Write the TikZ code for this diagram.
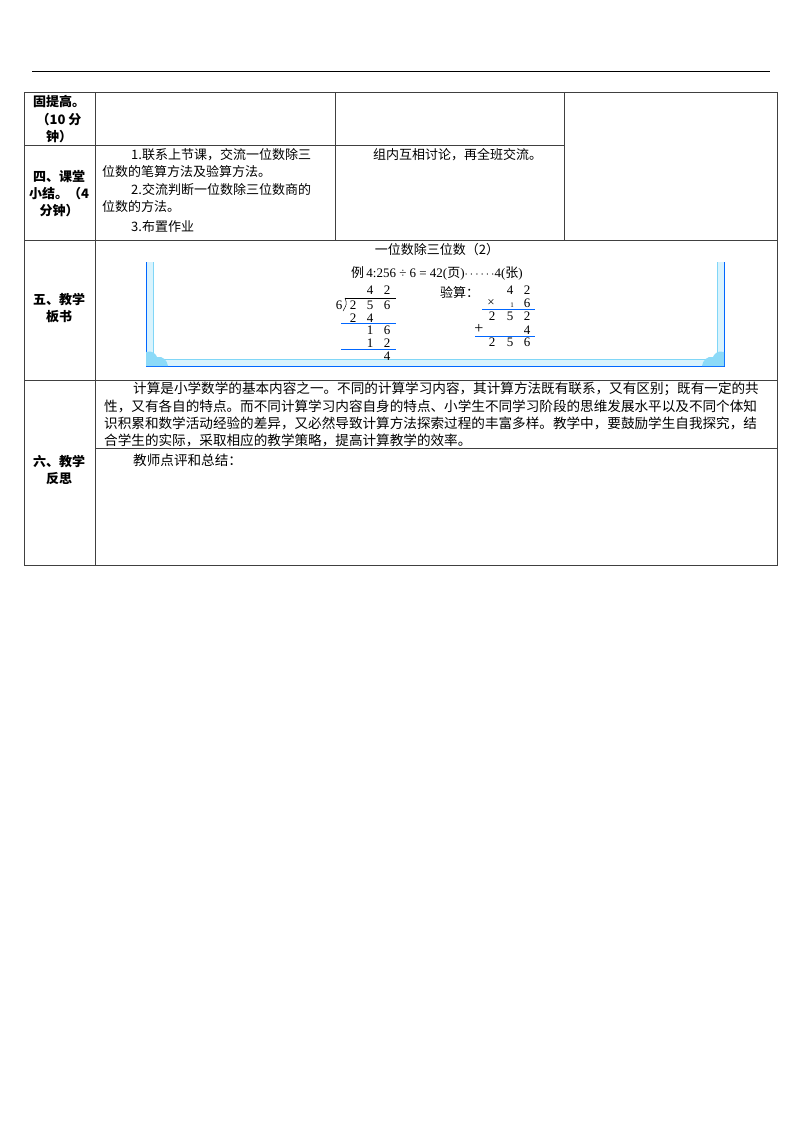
\documentclass[tikz,border=0pt]{standalone}
\usepackage{fontspec}
\setmainfont{Liberation Serif}
\newfontfamily\cjk{Noto Sans CJK SC}
\begin{document}
\begin{tikzpicture}[x=1pt,y=-1pt,
  t/.style={font=\cjk\fontsize{13}{13}\selectfont,inner sep=0pt,anchor=west},
  lab/.style={font=\cjk\bfseries\fontsize{13}{13}\selectfont,inner sep=0pt},
  rl/.style={font=\cjk\fontsize{13.6}{13.6}\selectfont,inner sep=0pt,anchor=west},
  d/.style={font=\fontsize{13}{13}\selectfont,inner sep=0pt},
  grid/.style={draw=black!75,line width=0.8pt},
  bl/.style={draw=blue!60!cyan,line width=0.8pt},
  band/.style={fill=cyan!20,draw=cyan!60!blue,line width=0.5pt}]
\useasboundingbox (0,0) rectangle (800,1132);
\draw[line width=1pt] (32,72) -- (770,72);
% table grid
\draw[grid] (24,92) rectangle (777,565);
\draw[grid] (95,92) -- (95,565);
\draw[grid] (335,92) -- (335,240);
\draw[grid] (564,92) -- (564,240);
\draw[grid] (24,145) -- (564,145);
\draw[grid] (24,240) -- (777,240);
\draw[grid] (24,380) -- (777,380);
\draw[grid] (95,448) -- (777,448);
% labels
\node[lab] (l1) at (59,102) {固提高。};
\node[lab] (l2) at (59,120) {（10 分};
\node[lab] (l3) at (59,137) {钟）};
\node[lab] (l4) at (59,177) {四、课堂};
\node[lab] (l5) at (59,194) {小结。（4};
\node[lab] (l6) at (59,211) {分钟）};
\node[lab] (l7) at (59,300) {五、教学};
\node[lab] (l8) at (59,317) {板书};
\node[lab] (l9) at (59,462) {六、教学};
\node[lab] (l10) at (59,479) {反思};
% row 4 text
\node[t] (a1) at (131,155) {1.联系上节课，交流一位数除三};
\node[t] (a2) at (102,172) {位数的笔算方法及验算方法。};
\node[t] (a3) at (131,190) {2.交流判断一位数除三位数商的};
\node[t] (a4) at (102,207) {位数的方法。};
\node[t] (a5) at (131,227) {3.布置作业};
\node[t] (b1) at (373,155) {组内互相讨论，再全班交流。};
% board
\node[t,anchor=center] (title) at (437,250) {一位数除三位数（2）};
\fill[cyan!15] (146,262) rectangle (153,366);
\fill[cyan!15] (717,262) rectangle (724,366);
\fill[cyan!15] (146,359) rectangle (724,366);
\draw[bl] (146,262) -- (146,366) -- (724,366) -- (724,262);
\draw[draw=cyan!50,line width=0.6pt] (153,262) -- (153,359) -- (717,359) -- (717,262);
\fill[cyan!45] (146,352) .. controls (152,350) and (156,354) .. (157,357) .. controls (163,356) and (167,360) .. (168,366) -- (146,366) -- cycle;
\fill[cyan!45] (724,352) .. controls (718,350) and (714,354) .. (713,357) .. controls (707,356) and (703,360) .. (702,366) -- (724,366) -- cycle;
\node[d] (eq) at (437,273) {{\cjk 例}\,4:256 ÷ 6 = 42({\cjk 页})$\cdots\cdots$4({\cjk 张})};
% division
\node[d] (q1) at (370,290) {4};
\node[d] (q2) at (387,290) {2};
\node[d] (dv) at (339,305) {6};
\draw[line width=0.5pt] (345,298) -- (396,298);
\draw[line width=0.5pt] (345,298) .. controls (347,304) .. (343,311);
\node[d] (n1) at (353,305) {2};
\node[d] (n2) at (370,305) {5};
\node[d] (n3) at (387,305) {6};
\node[d] (s1) at (353,318) {2};
\node[d] (s2) at (370,318) {4};
\draw[bl] (341,323) -- (396,323);
\node[d] (r1) at (370,330) {1};
\node[d] (r2) at (387,330) {6};
\node[d] (p1) at (370,343) {1};
\node[d] (p2) at (387,343) {2};
\draw[bl] (341,349) -- (396,349);
\node[d] (rm) at (387,356) {4};
% check
\node[t] (yan) at (440,293) {验算：};
\node[d] (c1) at (510,290) {4};
\node[d] (c2) at (527,290) {2};
\node[d] (cx) at (491,303) {×};
\node[d,font=\fontsize{7}{7}\selectfont] (cc) at (512,305) {1};
\node[d] (c3) at (527,303) {6};
\draw[bl] (482,309) -- (535,309);
\node[d] (e1) at (492,316) {2};
\node[d] (e2) at (510,316) {5};
\node[d] (e3) at (527,316) {2};
\node[d,font=\fontsize{16}{16}\selectfont] (pl) at (479,329) {+};
\node[d] (e4) at (527,330) {4};
\draw[bl] (475,336) -- (535,336);
\node[d] (f1) at (492,342) {2};
\node[d] (f2) at (510,342) {5};
\node[d] (f3) at (527,342) {6};
% reflection
\node[rl] (r1t) at (133,389) {计算是小学数学的基本内容之一。不同的计算学习内容，其计算方法既有联系，又有区别；既有一定的共};
\node[rl] (r2t) at (104,406) {性，又有各自的特点。而不同计算学习内容自身的特点、小学生不同学习阶段的思维发展水平以及不同个体知};
\node[rl] (r3t) at (104,423) {识积累和数学活动经验的差异，又必然导致计算方法探索过程的丰富多样。教学中，要鼓励学生自我探究，结};
\node[rl] (r4t) at (104,440) {合学生的实际，采取相应的教学策略，提高计算教学的效率。};
\node[rl] (r5t) at (133,460) {教师点评和总结：};
\end{tikzpicture}
\end{document}
